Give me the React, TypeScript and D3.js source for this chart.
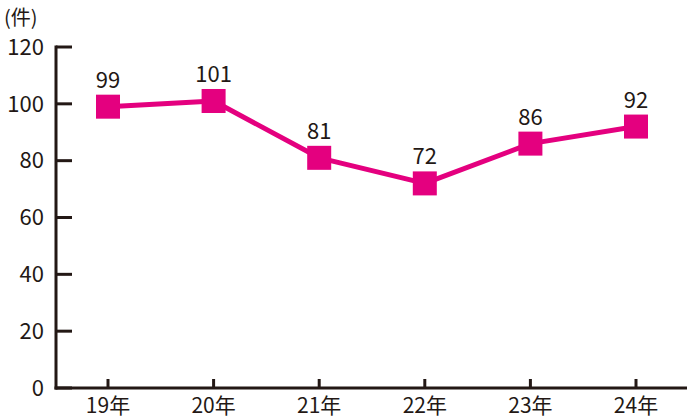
import React from "react";
import * as d3 from "d3";

const categories = ["19年", "20年", "21年", "22年", "23年", "24年"];
const values = [99, 101, 81, 72, 86, 92];
const yTicks = [0, 20, 40, 60, 80, 100, 120];

const W = 687;
const H = 419;
const FONT = "'Noto Sans CJK JP', 'Noto Sans', sans-serif";
const INK = "#231815";
const PINK = "#E4007F";

export default function App() {
  const x = d3.scalePoint<string>().domain(categories).range([108, 636]);
  const y = d3.scaleLinear().domain([0, 120]).range([388, 47]);
  const line = d3
    .line<number>()
    .x((_, i) => x(categories[i]) as number)
    .y((d) => y(d));
  const axisX = 56;
  const sq = 24;
  return (
    <svg width={W} height={H} style={{ position: "absolute", left: 0, top: 0 }}>
      <rect width={W} height={H} fill="#fff" />
      <text x={4} y={25} fontSize={20} fontFamily={FONT} fill={INK}>
        (件)
      </text>
      {/* y axis */}
      <line x1={axisX} x2={axisX} y1={y(120) - 1.5} y2={y(0) + 1.5} stroke={INK} strokeWidth={3} />
      {yTicks.map((t) => (
        <g key={t}>
          <line x1={axisX} x2={72} y1={y(t)} y2={y(t)} stroke={INK} strokeWidth={3} />
          <text
            x={44}
            y={y(t)}
            dy="0.35em"
            textAnchor="end"
            fontSize={22}
            fontFamily={FONT}
            fill={INK}
          >
            {t}
          </text>
        </g>
      ))}
      {/* x axis */}
      <line x1={axisX - 1.5} x2={W} y1={y(0)} y2={y(0)} stroke={INK} strokeWidth={3} />
      {categories.map((c) => (
        <g key={c}>
          <line x1={x(c)} x2={x(c)} y1={y(0)} y2={y(0) - 9} stroke={INK} strokeWidth={3} />
          <text
            x={x(c)}
            y={413}
            textAnchor="middle"
            fontSize={21}
            fontFamily={FONT}
            fill={INK}
          >
            {c}
          </text>
        </g>
      ))}
      <path d={line(values) || ""} fill="none" stroke={PINK} strokeWidth={5} strokeLinejoin="round" />
      {values.map((v, i) => (
        <g key={i}>
          <rect
            x={(x(categories[i]) as number) - sq / 2}
            y={y(v) - sq / 2}
            width={sq}
            height={sq}
            fill={PINK}
          />
          <text
            x={x(categories[i])}
            y={y(v) - 19}
            textAnchor="middle"
            fontSize={22}
            fontFamily={FONT}
            fill={INK}
          >
            {v}
          </text>
        </g>
      ))}
    </svg>
  );
}
